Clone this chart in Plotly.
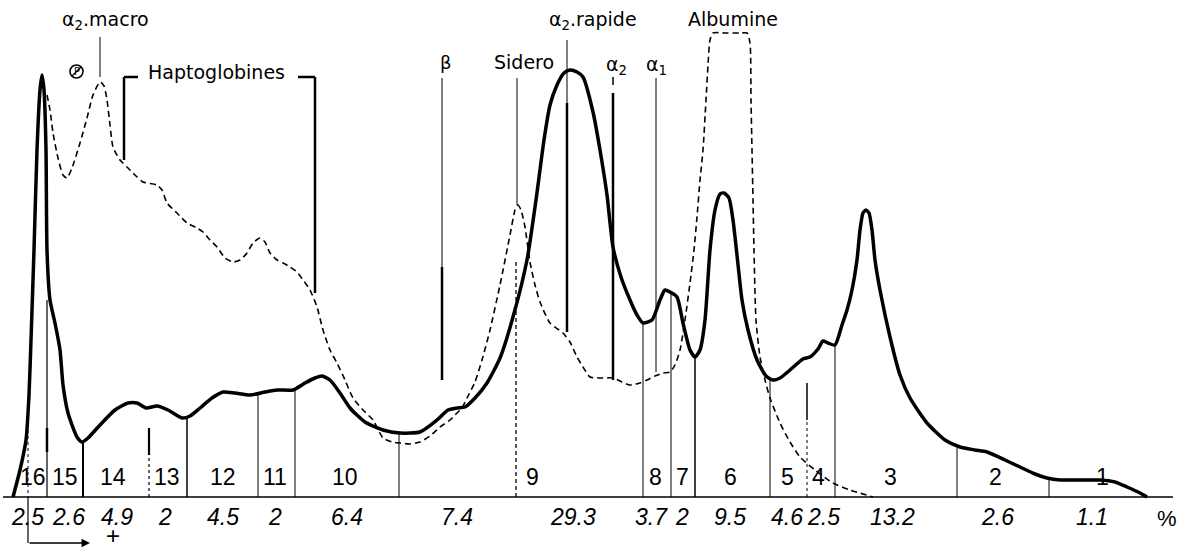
import numpy as np
import plotly.graph_objects as go

# ---------------- data ----------------
# position along the strip (arbitrary units) and optical density (arbitrary units)
total_pos = [13, 20, 26, 29, 31, 34, 37, 40, 42, 44, 46, 47, 50, 55, 60, 63, 68, 77, 82, 88,
             100, 115, 128, 137, 146, 157, 168, 182, 190, 200, 212, 223, 235, 250, 265, 277, 293,
             305, 315, 322, 330, 340, 350, 365, 383, 400, 420, 437, 448, 457, 465, 475, 487, 500,
             513, 527, 536, 544, 550, 557, 564, 570, 577, 583, 593, 600, 607, 613, 621, 630, 637, 643,
             652, 660, 665, 670, 677, 683, 690, 695, 700, 705, 710, 715, 720, 724, 729, 733, 737,
             742, 748, 757, 766, 773, 780, 790, 803, 810, 818, 823, 828, 835, 842, 847, 852, 857,
             860, 863, 866, 869, 872, 875, 880, 890, 900, 910, 927, 945, 960, 975, 987, 1005,
             1020, 1035, 1047, 1060, 1080, 1100, 1115, 1127, 1140, 1147]
total_dens = [0, 27, 57, 102, 157, 247, 347, 407, 422, 407, 347, 247, 197, 174, 147, 112, 84, 60, 55, 59,
              72, 87, 94, 94, 89, 91, 87, 79, 81, 89, 99, 105, 104, 102, 105, 107, 107,
              114, 119, 121, 117, 104, 89, 75, 67, 64, 65, 77, 87, 89, 90, 99, 114, 139,
              180, 237, 297, 357, 392, 412, 424, 427, 425, 420, 385, 347, 302, 250, 220, 197, 182, 174,
              177, 197, 207, 205, 200, 174, 147, 140, 147, 177, 247, 287, 303, 304, 299, 277, 242,
              197, 167, 137, 121, 117, 119, 127, 138, 140, 148, 156, 154, 152, 172, 187, 207, 237,
              267, 284, 287, 284, 267, 237, 207, 160, 122, 99, 74, 57, 50, 47, 45, 37,
              30, 23, 19, 17, 17, 17, 15, 10, 4, 0]

serum_pos = [47, 50, 53, 58, 63, 67, 72, 80, 87, 93, 100, 104, 107, 110, 113, 120, 127, 135, 143, 157,
             162, 167, 177, 187, 197, 203, 210, 217, 225, 233, 240, 247, 253, 260, 265, 270, 277,
             283, 290, 297, 303, 310, 317, 323, 330, 337, 345, 353, 363, 373, 383, 392, 400, 410,
             420, 430, 440, 450, 457, 462, 467, 475, 482, 490, 500, 510, 515, 518, 521, 525, 530,
             535, 540, 550, 563, 570, 577, 583, 590, 600, 613, 622, 630, 640, 647, 655, 663, 670,
             675, 680, 685, 690, 694, 697, 700, 703, 706, 708, 710, 713, 725, 740, 747, 750, 751,
             752, 753, 754, 756, 760, 765, 770, 780, 790, 800, 815, 833, 850, 873]
serum_dens = [402, 387, 364, 339, 322, 319, 329, 354, 379, 402, 415, 411, 397, 372, 350, 337, 330, 322, 315, 312,
              307, 294, 284, 274, 269, 265, 257, 250, 239, 235, 237, 244, 254, 259, 255, 244, 237,
              234, 230, 225, 217, 207, 190, 167, 147, 134, 117, 99, 87, 77, 59, 55, 54, 53,
              55, 61, 70, 77, 84, 89, 99, 115, 137, 167, 212, 262, 287, 292, 287, 270, 235,
              212, 195, 174, 164, 155, 140, 130, 120, 119, 119, 115, 112, 114, 117, 121, 124, 125,
              132, 147, 177, 214, 247, 280, 317, 347, 397, 432, 457, 464, 464, 464, 464, 454, 397,
              347, 297, 247, 177, 140, 117, 99, 74, 55, 40, 27, 14, 7, 0]

fraction_numbers = ["16", "15", "14", "13", "12", "11", "10", "9", "8", "7", "6", "5", "4", "3", "2", "1"]
fraction_label_pos = [33, 65, 113, 167, 223, 275, 345, 532, 655, 682, 730, 787, 818, 890, 995, 1102]

percent_values = ["2.5", "2.6", "4.9", "2", "4.5", "2", "6.4", "7.4", "29.3", "3.7", "2", "9.5",
                  "4.6", "2.5", "13.2", "2.6", "1.1"]
percent_pos = [27, 68, 117, 165, 223, 275, 347, 457, 573, 651, 682, 730, 787, 823, 892, 997, 1092]

boundary_pos = [47, 83, 149, 187, 258, 295, 399, 516, 643, 671, 695, 770, 807, 835, 957, 1049]

# ---------------- drawing helpers ----------------
BASE = 497          # screen row of the zero line (for decoration placement)
def d(py):
    return BASE - py

BLACK = "black"
shapes = []
def vline(x, y0, y1, w=1.0, dash="solid"):
    shapes.append(dict(type="line", xref="x", yref="y", x0=x, x1=x, y0=y0, y1=y1,
                       line=dict(color=BLACK, width=w, dash=dash), layer="below"))
def seg(x0, y0, x1, y1, w=1.0, dash="solid"):
    shapes.append(dict(type="line", xref="x", yref="y", x0=x0, x1=x1, y0=y0, y1=y1,
                       line=dict(color=BLACK, width=w, dash=dash), layer="below"))

fig = go.Figure()
fig.add_trace(go.Scatter(x=serum_pos, y=serum_dens, mode="lines",
                         line=dict(color=BLACK, width=1.6, dash="6px,4px", shape="spline", smoothing=0.6),
                         hoverinfo="skip", showlegend=False))
fig.add_trace(go.Scatter(x=total_pos, y=total_dens, mode="lines",
                         line=dict(color=BLACK, width=3.5, shape="spline", smoothing=0.6),
                         hoverinfo="skip", showlegend=False))

# baseline
seg(3, 0, 1173, 0, 1.6)

# fraction boundaries: from zero line up to the total curve (with a few special styles)
top_override = {47: d(300), 149: d(428), 516: d(260), 807: d(383), 957: d(445)}
width_map = {47: 1.2, 83: 2, 149: 2, 187: 1.5, 695: 1.5, 807: 1.5}
for bx in boundary_pos:
    top = top_override.get(bx, float(np.interp(bx, total_pos, total_dens)))
    w = width_map.get(bx, 1.0)
    if bx == 516:
        vline(bx, 0, top, 1.3, "4px,3px")
    elif bx == 807:
        vline(bx, d(420), top, 1.5)
        vline(bx, 0, d(420), 1.0, "3px,3px")
    elif bx == 149:
        vline(bx, d(455), top, 2.2)
        vline(bx, 0, d(455), 1.2, "3px,3px")
    else:
        vline(bx, 0, top, w)
vline(47, d(452), d(428), 2.5)

# left edge marker + electrophoresis direction arrow
vline(28, d(430), 0, 1.0, "3px,3px")
vline(28, 0, d(543), 1.2)

# label markers
vline(100, d(37), d(77), 1.0)                      # alpha2 macro
seg(124, d(77), 138, d(77), 2.5); vline(124, d(77), d(160), 2.5)      # haptoglobines bracket
seg(298, d(77), 315, d(77), 2.5); vline(315, d(77), d(293), 2.5)
vline(442, d(78), d(267), 1.0); vline(442, d(267), d(380), 2.5)         # beta
vline(517, d(78), d(205), 1.0)                                         # sidero
vline(567, d(40), d(103), 1.0); vline(567, d(103), d(332), 2.5)         # alpha2 rapide
vline(613, d(77), d(85), 1.5); vline(613, d(93), d(380), 2.5)          # alpha2
vline(656, d(78), d(372), 1.0)                                         # alpha1

# small circled mark near the alpha2-macro peak
shapes.append(dict(type="circle", xref="x", yref="y", x0=70, x1=83, y0=d(78), y1=d(65),
                   line=dict(color=BLACK, width=1.6), layer="above"))
seg(72, d(76), 81, d(67), 1.2)

ann = []
FONT_LBL = dict(family="DejaVu Sans", size=19, color=BLACK)
def text(x, py, s, font, xanchor="center", yanchor="middle"):
    ann.append(dict(x=x, y=d(py), xref="x", yref="y", text=s, showarrow=False,
                    xanchor=xanchor, yanchor=yanchor, font=font))

text(60, 20, "α<sub>2</sub>.macro", FONT_LBL, xanchor="left")
text(76.5, 71.5, "P", dict(family="DejaVu Sans", size=10, color=BLACK))
text(216, 72, "Haptoglobines", FONT_LBL)
text(446, 62, "β", dict(family="DejaVu Sans", size=18, color=BLACK))
text(524, 62, "Sidero", FONT_LBL)
text(547, 20, "α<sub>2</sub>.rapide", FONT_LBL, xanchor="left")
text(604, 65, "α<sub>2</sub>", FONT_LBL, xanchor="left")
text(644, 65, "α<sub>1</sub>", FONT_LBL, xanchor="left")
text(733, 19, "Albumine", FONT_LBL)

FONT_NUM = dict(family="Liberation Sans", size=23, color=BLACK)
for s, x in zip(fraction_numbers, fraction_label_pos):
    text(x, 477, s, FONT_NUM)
FONT_PCT = dict(family="Liberation Sans", size=23, color=BLACK, style="italic")
for s, x in zip(percent_values, percent_pos):
    text(x, 517, s, FONT_PCT)
text(1167, 518, "%", dict(family="Liberation Sans", size=22, color=BLACK))
text(113, 551, "+", dict(family="Liberation Sans", size=24, color=BLACK), yanchor="bottom")

ann.append(dict(x=90, y=d(543), xref="x", yref="y", ax=-62, ay=0, axref="pixel", ayref="pixel",
                showarrow=True, arrowhead=2, arrowsize=1.3, arrowwidth=1.3, arrowcolor=BLACK, text=""))

fig.update_layout(
    width=1181, height=551, margin=dict(l=0, r=0, t=0, b=0),
    paper_bgcolor="white", plot_bgcolor="white",
    xaxis=dict(range=[0, 1181], visible=False, fixedrange=True),
    yaxis=dict(range=[-54, 497], visible=False, fixedrange=True),
    shapes=shapes, annotations=ann, showlegend=False,
)
fig.write_html("out.html")
